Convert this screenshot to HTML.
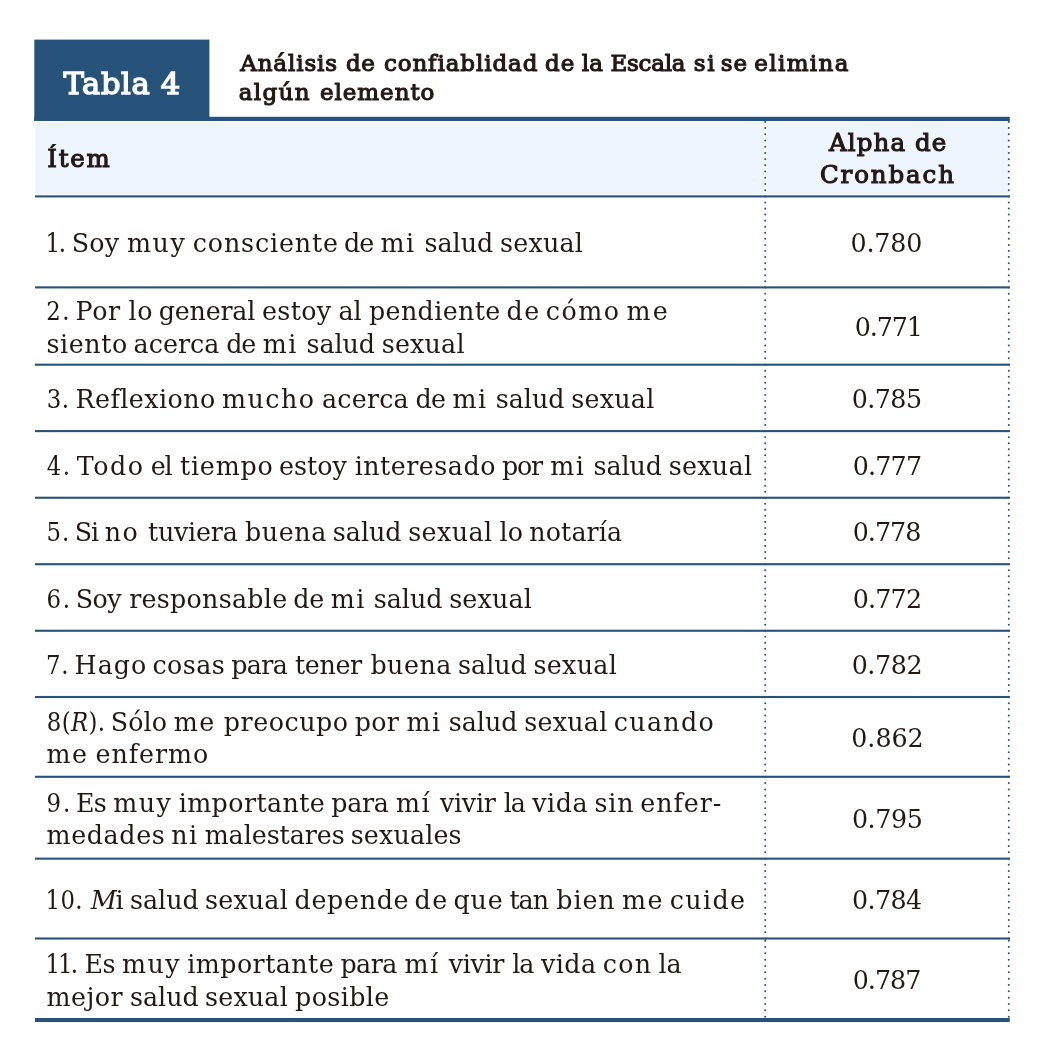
<!DOCTYPE html>
<html lang="es"><head><meta charset="utf-8"><title>Tabla 4</title>
<style>
html,body{margin:0;padding:0;background:#fff;}
body{width:1044px;height:1059px;position:relative;overflow:hidden;font-family:"DejaVu Serif","Liberation Serif",serif;color:#231815;}
svg{position:absolute;left:0;top:0;}
.t{position:absolute;left:0;width:1044px;height:33px;font-size:25.35px;line-height:33px;white-space:nowrap;}
.t span,.v{position:absolute;top:0;white-space:nowrap;}
.v{font-size:25.35px;line-height:33px;height:33px;}
.n{font-family:"DejaVu Serif Condensed","DejaVu Serif","Liberation Serif",serif;}
.h{position:absolute;white-space:nowrap;font-weight:normal;line-height:32px;-webkit-text-stroke:1.1px currentColor;paint-order:stroke fill;}
</style></head><body>
<svg width="1044" height="1059" viewBox="0 0 1044 1059"><rect x="35" y="121.8" width="729.1" height="72.5" fill="#eef5fc"/><rect x="766.5" y="121.8" width="241.6" height="72.5" fill="#eef5fc"/><rect x="34.3" y="39.6" width="175.1" height="81.4" fill="#27527a"/><rect x="34.3" y="116.8" width="975.5" height="4.2" fill="#27527a"/><rect x="35" y="195.35" width="974.8" height="2.1" fill="#27527a"/><rect x="35" y="286.35" width="974.8" height="2.1" fill="#27527a"/><rect x="35" y="363.65" width="974.8" height="2.1" fill="#27527a"/><rect x="35" y="430.05" width="974.8" height="2.1" fill="#27527a"/><rect x="35" y="496.70" width="974.8" height="2.1" fill="#27527a"/><rect x="35" y="563.15" width="974.8" height="2.1" fill="#27527a"/><rect x="35" y="629.70" width="974.8" height="2.1" fill="#27527a"/><rect x="35" y="695.95" width="974.8" height="2.1" fill="#27527a"/><rect x="35" y="775.75" width="974.8" height="2.1" fill="#27527a"/><rect x="35" y="857.60" width="974.8" height="2.1" fill="#27527a"/><rect x="35" y="937.45" width="974.8" height="2.1" fill="#27527a"/><rect x="35" y="1018" width="974.8" height="4.05" fill="#27527a"/><path d="M765.2 121.90h0M765.2 128.11h0M765.2 134.32h0M765.2 140.53h0M765.2 146.73h0M765.2 152.94h0M765.2 159.15h0M765.2 165.36h0M765.2 171.57h0M765.2 177.78h0M765.2 183.98h0M765.2 190.19h0M765.2 196.40h0M765.2 202.47h0M765.2 208.53h0M765.2 214.60h0M765.2 220.67h0M765.2 226.73h0M765.2 232.80h0M765.2 238.87h0M765.2 244.93h0M765.2 251.00h0M765.2 257.07h0M765.2 263.13h0M765.2 269.20h0M765.2 275.27h0M765.2 281.33h0M765.2 287.40h0M765.2 293.84h0M765.2 300.28h0M765.2 306.72h0M765.2 313.17h0M765.2 319.61h0M765.2 326.05h0M765.2 332.49h0M765.2 338.93h0M765.2 345.38h0M765.2 351.82h0M765.2 358.26h0M765.2 364.70h0M765.2 370.74h0M765.2 376.77h0M765.2 382.81h0M765.2 388.85h0M765.2 394.88h0M765.2 400.92h0M765.2 406.95h0M765.2 412.99h0M765.2 419.03h0M765.2 425.06h0M765.2 431.10h0M765.2 437.16h0M765.2 443.22h0M765.2 449.28h0M765.2 455.34h0M765.2 461.40h0M765.2 467.45h0M765.2 473.51h0M765.2 479.57h0M765.2 485.63h0M765.2 491.69h0M765.2 497.75h0M765.2 503.79h0M765.2 509.83h0M765.2 515.87h0M765.2 521.91h0M765.2 527.95h0M765.2 534.00h0M765.2 540.04h0M765.2 546.08h0M765.2 552.12h0M765.2 558.16h0M765.2 564.20h0M765.2 570.25h0M765.2 576.30h0M765.2 582.35h0M765.2 588.40h0M765.2 594.45h0M765.2 600.50h0M765.2 606.55h0M765.2 612.60h0M765.2 618.65h0M765.2 624.70h0M765.2 630.75h0M765.2 636.77h0M765.2 642.80h0M765.2 648.82h0M765.2 654.84h0M765.2 660.86h0M765.2 666.89h0M765.2 672.91h0M765.2 678.93h0M765.2 684.95h0M765.2 690.98h0M765.2 697.00h0M765.2 703.14h0M765.2 709.28h0M765.2 715.42h0M765.2 721.55h0M765.2 727.69h0M765.2 733.83h0M765.2 739.97h0M765.2 746.11h0M765.2 752.25h0M765.2 758.38h0M765.2 764.52h0M765.2 770.66h0M765.2 776.80h0M765.2 783.10h0M765.2 789.39h0M765.2 795.69h0M765.2 801.98h0M765.2 808.28h0M765.2 814.58h0M765.2 820.87h0M765.2 827.17h0M765.2 833.47h0M765.2 839.76h0M765.2 846.06h0M765.2 852.35h0M765.2 858.65h0M765.2 864.79h0M765.2 870.93h0M765.2 877.08h0M765.2 883.22h0M765.2 889.36h0M765.2 895.50h0M765.2 901.65h0M765.2 907.79h0M765.2 913.93h0M765.2 920.07h0M765.2 926.22h0M765.2 932.36h0M765.2 938.50h0M765.2 940.70h0M765.2 947.03h0M765.2 953.37h0M765.2 959.70h0M765.2 966.03h0M765.2 972.37h0M765.2 978.70h0M765.2 985.03h0M765.2 991.37h0M765.2 997.70h0M765.2 1004.03h0M765.2 1010.37h0M765.2 1016.70h0" stroke="#27527a" stroke-width="2" stroke-linecap="round" fill="none"/><path d="M1008.8 121.90h0M1008.8 128.11h0M1008.8 134.32h0M1008.8 140.53h0M1008.8 146.73h0M1008.8 152.94h0M1008.8 159.15h0M1008.8 165.36h0M1008.8 171.57h0M1008.8 177.78h0M1008.8 183.98h0M1008.8 190.19h0M1008.8 196.40h0M1008.8 202.47h0M1008.8 208.53h0M1008.8 214.60h0M1008.8 220.67h0M1008.8 226.73h0M1008.8 232.80h0M1008.8 238.87h0M1008.8 244.93h0M1008.8 251.00h0M1008.8 257.07h0M1008.8 263.13h0M1008.8 269.20h0M1008.8 275.27h0M1008.8 281.33h0M1008.8 287.40h0M1008.8 293.84h0M1008.8 300.28h0M1008.8 306.72h0M1008.8 313.17h0M1008.8 319.61h0M1008.8 326.05h0M1008.8 332.49h0M1008.8 338.93h0M1008.8 345.38h0M1008.8 351.82h0M1008.8 358.26h0M1008.8 364.70h0M1008.8 370.74h0M1008.8 376.77h0M1008.8 382.81h0M1008.8 388.85h0M1008.8 394.88h0M1008.8 400.92h0M1008.8 406.95h0M1008.8 412.99h0M1008.8 419.03h0M1008.8 425.06h0M1008.8 431.10h0M1008.8 437.16h0M1008.8 443.22h0M1008.8 449.28h0M1008.8 455.34h0M1008.8 461.40h0M1008.8 467.45h0M1008.8 473.51h0M1008.8 479.57h0M1008.8 485.63h0M1008.8 491.69h0M1008.8 497.75h0M1008.8 503.79h0M1008.8 509.83h0M1008.8 515.87h0M1008.8 521.91h0M1008.8 527.95h0M1008.8 534.00h0M1008.8 540.04h0M1008.8 546.08h0M1008.8 552.12h0M1008.8 558.16h0M1008.8 564.20h0M1008.8 570.25h0M1008.8 576.30h0M1008.8 582.35h0M1008.8 588.40h0M1008.8 594.45h0M1008.8 600.50h0M1008.8 606.55h0M1008.8 612.60h0M1008.8 618.65h0M1008.8 624.70h0M1008.8 630.75h0M1008.8 636.77h0M1008.8 642.80h0M1008.8 648.82h0M1008.8 654.84h0M1008.8 660.86h0M1008.8 666.89h0M1008.8 672.91h0M1008.8 678.93h0M1008.8 684.95h0M1008.8 690.98h0M1008.8 697.00h0M1008.8 703.14h0M1008.8 709.28h0M1008.8 715.42h0M1008.8 721.55h0M1008.8 727.69h0M1008.8 733.83h0M1008.8 739.97h0M1008.8 746.11h0M1008.8 752.25h0M1008.8 758.38h0M1008.8 764.52h0M1008.8 770.66h0M1008.8 776.80h0M1008.8 783.10h0M1008.8 789.39h0M1008.8 795.69h0M1008.8 801.98h0M1008.8 808.28h0M1008.8 814.58h0M1008.8 820.87h0M1008.8 827.17h0M1008.8 833.47h0M1008.8 839.76h0M1008.8 846.06h0M1008.8 852.35h0M1008.8 858.65h0M1008.8 864.79h0M1008.8 870.93h0M1008.8 877.08h0M1008.8 883.22h0M1008.8 889.36h0M1008.8 895.50h0M1008.8 901.65h0M1008.8 907.79h0M1008.8 913.93h0M1008.8 920.07h0M1008.8 926.22h0M1008.8 932.36h0M1008.8 938.50h0M1008.8 940.70h0M1008.8 947.03h0M1008.8 953.37h0M1008.8 959.70h0M1008.8 966.03h0M1008.8 972.37h0M1008.8 978.70h0M1008.8 985.03h0M1008.8 991.37h0M1008.8 997.70h0M1008.8 1004.03h0M1008.8 1010.37h0M1008.8 1016.70h0" stroke="#27527a" stroke-width="2" stroke-linecap="round" fill="none"/></svg>
<div class="h" id="tabla" style="left:63.42px;top:68.15px;font-size:30.5px;letter-spacing:0.663px;color:#fff;-webkit-text-stroke-width:1.5px">Tabla 4</div>
<div class="h" id="t1a" style="left:240.23px;top:47.04px;font-size:23.0px;letter-spacing:0.862px">Análisis</div>
<div class="h" id="t1b" style="left:345.88px;top:47.04px;font-size:23.0px;letter-spacing:0.547px">de</div>
<div class="h" id="t1c" style="left:383.88px;top:47.04px;font-size:23.0px;letter-spacing:0.892px">confiablidad</div>
<div class="h" id="t1d" style="left:544.88px;top:47.04px;font-size:23.0px;letter-spacing:1.076px">de</div>
<div class="h" id="t1e" style="left:581.84px;top:47.04px;font-size:23.0px;letter-spacing:0.013px">la</div>
<div class="h" id="t1f" style="left:610.61px;top:47.04px;font-size:23.0px;letter-spacing:-0.292px">Escala</div>
<div class="h" id="t1g" style="left:693.68px;top:47.04px;font-size:23.0px;letter-spacing:1.820px">si</div>
<div class="h" id="t1h" style="left:720.68px;top:47.04px;font-size:23.0px;letter-spacing:1.040px">se</div>
<div class="h" id="t1i" style="left:754.16px;top:47.04px;font-size:23.0px;letter-spacing:1.386px">elimina</div>
<div class="h" id="t2a" style="left:238.84px;top:76.04px;font-size:23.0px;letter-spacing:1.329px">algún</div>
<div class="h" id="t2b" style="left:319.97px;top:76.04px;font-size:23.0px;letter-spacing:0.935px">elemento</div>
<div class="h" id="item" style="left:47.20px;top:142.52px;font-size:24.5px;letter-spacing:1.801px">Ítem</div>
<div class="h" id="a1" style="left:829.03px;top:126.52px;font-size:24.5px;letter-spacing:1.098px">Alpha de</div>
<div class="h" id="a2" style="left:819.89px;top:158.52px;font-size:24.5px;letter-spacing:1.906px">Cronbach</div>
<div class="t" id="r1" style="top:226.73px">
<span class="n" id="r1_0" style="left:45.50px;letter-spacing:-1.178px">1.</span>
<span id="r1_1" style="left:71.65px;letter-spacing:0.269px">Soy</span>
<span id="r1_2" style="left:127.06px;letter-spacing:1.500px">muy</span>
<span id="r1_3" style="left:192.74px;letter-spacing:0.845px">consciente</span>
<span id="r1_4" style="left:344.12px;letter-spacing:-1.200px">de</span>
<span id="r1_5" style="left:380.57px;letter-spacing:1.500px">mi</span>
<span id="r1_6" style="left:424.54px;letter-spacing:-0.014px">salud</span>
<span id="r1_7" style="left:500.07px;letter-spacing:0.210px">sexual</span>
</div>
<div class="t" id="r2a" style="top:294.73px">
<span class="n" id="r2a_0" style="left:46.26px;letter-spacing:1.404px">2.</span>
<span id="r2a_1" style="left:75.61px;letter-spacing:0.558px">Por</span>
<span id="r2a_2" style="left:128.38px;letter-spacing:0.760px">lo</span>
<span id="r2a_3" style="left:158.76px;letter-spacing:-0.219px">general</span>
<span id="r2a_4" style="left:262.00px;letter-spacing:0.353px">estoy</span>
<span id="r2a_5" style="left:338.57px;letter-spacing:-0.209px">al</span>
<span id="r2a_6" style="left:368.90px;letter-spacing:0.386px">pendiente</span>
<span id="r2a_7" style="left:506.52px;letter-spacing:1.500px">de</span>
<span id="r2a_8" style="left:545.77px;letter-spacing:1.500px">cómo</span>
<span id="r2a_9" style="left:626.57px;letter-spacing:2.200px">me</span>
</div>
<div class="t" id="r2b" style="top:327.73px">
<span id="r2b_0" style="left:46.48px;letter-spacing:0.580px">siento</span>
<span id="r2b_1" style="left:133.60px;letter-spacing:0.026px">acerca</span>
<span id="r2b_2" style="left:226.26px;letter-spacing:-1.102px">de</span>
<span id="r2b_3" style="left:262.69px;letter-spacing:1.500px">mi</span>
<span id="r2b_4" style="left:306.54px;letter-spacing:-0.076px">salud</span>
<span id="r2b_5" style="left:381.71px;letter-spacing:0.199px">sexual</span>
</div>
<div class="t" id="r3" style="top:382.73px">
<span class="n" id="r3_0" style="left:46.74px;letter-spacing:0.404px">3.</span>
<span id="r3_1" style="left:75.47px;letter-spacing:0.446px">Reflexiono</span>
<span id="r3_2" style="left:222.00px;letter-spacing:1.500px">mucho</span>
<span id="r3_3" style="left:321.99px;letter-spacing:0.201px">acerca</span>
<span id="r3_4" style="left:415.52px;letter-spacing:-0.838px">de</span>
<span id="r3_5" style="left:452.56px;letter-spacing:1.500px">mi</span>
<span id="r3_6" style="left:495.76px;letter-spacing:-0.030px">salud</span>
<span id="r3_7" style="left:571.18px;letter-spacing:0.253px">sexual</span>
</div>
<div class="t" id="r4" style="top:449.73px">
<span class="n" id="r4_0" style="left:46.69px;letter-spacing:1.627px">4.</span>
<span id="r4_1" style="left:76.77px;letter-spacing:1.500px">Todo</span>
<span id="r4_2" style="left:150.80px;letter-spacing:-1.200px">el</span>
<span id="r4_3" style="left:179.96px;letter-spacing:0.814px">tiempo</span>
<span id="r4_4" style="left:278.93px;letter-spacing:0.022px">estoy</span>
<span id="r4_5" style="left:354.67px;letter-spacing:0.490px">interesado</span>
<span id="r4_6" style="left:502.02px;letter-spacing:-1.200px">por</span>
<span id="r4_7" style="left:550.22px;letter-spacing:1.500px">mi</span>
<span id="r4_8" style="left:593.48px;letter-spacing:-0.080px">salud</span>
<span id="r4_9" style="left:668.71px;letter-spacing:0.289px">sexual</span>
</div>
<div class="t" id="r5" style="top:515.73px">
<span class="n" id="r5_0" style="left:46.50px;letter-spacing:0.996px">5.</span>
<span id="r5_1" style="left:74.74px;letter-spacing:-1.200px">Si</span>
<span id="r5_2" style="left:104.67px;letter-spacing:1.500px">no</span>
<span id="r5_3" style="left:147.90px;letter-spacing:-0.199px">tuviera</span>
<span id="r5_4" style="left:245.08px;letter-spacing:0.566px">buena</span>
<span id="r5_5" style="left:332.76px;letter-spacing:0.014px">salud</span>
<span id="r5_6" style="left:408.18px;letter-spacing:0.408px">sexual</span>
<span id="r5_7" style="left:499.38px;letter-spacing:0.209px">lo</span>
<span id="r5_8" style="left:529.25px;letter-spacing:0.125px">notaría</span>
</div>
<div class="t" id="r6" style="top:582.73px">
<span class="n" id="r6_0" style="left:46.51px;letter-spacing:1.862px">6.</span>
<span id="r6_1" style="left:75.65px;letter-spacing:-0.527px">Soy</span>
<span id="r6_2" style="left:129.25px;letter-spacing:0.251px">responsable</span>
<span id="r6_3" style="left:293.26px;letter-spacing:-0.302px">de</span>
<span id="r6_4" style="left:330.67px;letter-spacing:1.500px">mi</span>
<span id="r6_5" style="left:373.76px;letter-spacing:-0.030px">salud</span>
<span id="r6_6" style="left:449.18px;letter-spacing:0.166px">sexual</span>
</div>
<div class="t" id="r7" style="top:648.73px">
<span class="n" id="r7_0" style="left:46.06px;letter-spacing:0.613px">7.</span>
<span id="r7_1" style="left:74.61px;letter-spacing:1.024px">Hago</span>
<span id="r7_2" style="left:152.51px;letter-spacing:0.408px">cosas</span>
<span id="r7_3" style="left:231.36px;letter-spacing:-0.720px">para</span>
<span id="r7_4" style="left:295.08px;letter-spacing:-0.389px">tener</span>
<span id="r7_5" style="left:370.38px;letter-spacing:0.516px">buena</span>
<span id="r7_6" style="left:458.07px;letter-spacing:-0.016px">salud</span>
<span id="r7_7" style="left:533.54px;letter-spacing:0.277px">sexual</span>
</div>
<div class="t" id="r8a" style="top:705.73px">
<span class="n" id="r8a_0" style="left:46.83px;letter-spacing:0.372px">8(<i>R</i>).</span>
<span id="r8a_1" style="left:110.74px;letter-spacing:0.087px">Sólo</span>
<span id="r8a_2" style="left:173.67px;letter-spacing:1.500px">me</span>
<span id="r8a_3" style="left:223.84px;letter-spacing:0.503px">preocupo</span>
<span id="r8a_4" style="left:354.84px;letter-spacing:0.236px">por</span>
<span id="r8a_5" style="left:406.57px;letter-spacing:1.500px">mi</span>
<span id="r8a_6" style="left:448.76px;letter-spacing:-0.030px">salud</span>
<span id="r8a_7" style="left:524.18px;letter-spacing:0.253px">sexual</span>
<span id="r8a_8" style="left:613.77px;letter-spacing:1.299px">cuando</span>
</div>
<div class="t" id="r8b" style="top:737.73px">
<span id="r8b_0" style="left:46.57px;letter-spacing:1.500px">me</span>
<span id="r8b_1" style="left:95.58px;letter-spacing:0.943px">enfermo</span>
</div>
<div class="t" id="r9a" style="top:786.73px">
<span class="n" id="r9a_0" style="left:46.55px;letter-spacing:1.876px">9.</span>
<span id="r9a_1" style="left:75.89px;letter-spacing:-0.613px">Es</span>
<span id="r9a_2" style="left:113.22px;letter-spacing:1.500px">muy</span>
<span id="r9a_3" style="left:178.69px;letter-spacing:0.395px">importante</span>
<span id="r9a_4" style="left:331.36px;letter-spacing:-0.387px">para</span>
<span id="r9a_5" style="left:396.06px;letter-spacing:1.500px">mí</span>
<span id="r9a_6" style="left:440.02px;letter-spacing:-0.290px">vivir</span>
<span id="r9a_7" style="left:503.84px;letter-spacing:-1.200px">la</span>
<span id="r9a_8" style="left:532.22px;letter-spacing:0.573px">vida</span>
<span id="r9a_9" style="left:594.54px;letter-spacing:0.791px">sin</span>
<span id="r9a_10" style="left:640.25px;letter-spacing:0.937px">enfer-</span>
</div>
<div class="t" id="r9b" style="top:818.73px">
<span id="r9b_0" style="left:46.57px;letter-spacing:0.602px">medades</span>
<span id="r9b_1" style="left:171.22px;letter-spacing:1.500px">ni</span>
<span id="r9b_2" style="left:204.67px;letter-spacing:-0.065px">malestares</span>
<span id="r9b_3" style="left:350.71px;letter-spacing:0.145px">sexuales</span>
</div>
<div class="t" id="r10" style="top:883.73px">
<span class="n" id="r10_0" style="left:45.60px;letter-spacing:0.378px">10.</span>
<span id="r10_1" style="left:90.66px;letter-spacing:-1.200px"><i>M</i>i</span>
<span id="r10_2" style="left:130.07px;letter-spacing:-0.049px">salud</span>
<span id="r10_3" style="left:205.08px;letter-spacing:0.164px">sexual</span>
<span id="r10_4" style="left:294.52px;letter-spacing:0.671px">depende</span>
<span id="r10_5" style="left:414.52px;letter-spacing:1.500px">de</span>
<span id="r10_6" style="left:453.51px;letter-spacing:0.811px">que</span>
<span id="r10_7" style="left:509.38px;letter-spacing:-0.998px">tan</span>
<span id="r10_8" style="left:556.35px;letter-spacing:0.889px">bien</span>
<span id="r10_9" style="left:622.00px;letter-spacing:1.500px">me</span>
<span id="r10_10" style="left:669.76px;letter-spacing:1.338px">cuide</span>
</div>
<div class="t" id="r11a" style="top:947.73px">
<span class="n" id="r11a_0" style="left:45.40px;letter-spacing:-1.782px">11.</span>
<span id="r11a_1" style="left:84.47px;letter-spacing:-0.489px">Es</span>
<span id="r11a_2" style="left:122.00px;letter-spacing:1.408px">muy</span>
<span id="r11a_3" style="left:187.25px;letter-spacing:0.430px">importante</span>
<span id="r11a_4" style="left:340.38px;letter-spacing:-0.499px">para</span>
<span id="r11a_5" style="left:404.57px;letter-spacing:1.500px">mí</span>
<span id="r11a_6" style="left:448.69px;letter-spacing:-0.291px">vivir</span>
<span id="r11a_7" style="left:512.35px;letter-spacing:-1.200px">la</span>
<span id="r11a_8" style="left:541.00px;letter-spacing:0.421px">vida</span>
<span id="r11a_9" style="left:602.77px;letter-spacing:1.207px">con</span>
<span id="r11a_10" style="left:658.38px;letter-spacing:0.076px">la</span>
</div>
<div class="t" id="r11b" style="top:980.73px">
<span id="r11b_0" style="left:46.57px;letter-spacing:0.420px">mejor</span>
<span id="r11b_1" style="left:130.07px;letter-spacing:-0.049px">salud</span>
<span id="r11b_2" style="left:205.08px;letter-spacing:0.164px">sexual</span>
<span id="r11b_3" style="left:295.08px;letter-spacing:0.373px">posible</span>
</div>
<div class="v" id="v1" style="left:850.42px;top:226.73px;letter-spacing:-0.153px">0.780</div>
<div class="v" id="v2" style="left:854.63px;top:310.73px;letter-spacing:-1.054px">0.771</div>
<div class="v" id="v3" style="left:851.64px;top:382.73px;letter-spacing:-0.530px">0.785</div>
<div class="v" id="v4" style="left:852.64px;top:449.73px;letter-spacing:-0.769px">0.777</div>
<div class="v" id="v5" style="left:852.64px;top:515.73px;letter-spacing:-0.952px">0.778</div>
<div class="v" id="v6" style="left:852.64px;top:582.73px;letter-spacing:-0.769px">0.772</div>
<div class="v" id="v7" style="left:851.64px;top:648.73px;letter-spacing:-0.378px">0.782</div>
<div class="v" id="v8" style="left:851.30px;top:721.73px;letter-spacing:-0.047px">0.862</div>
<div class="v" id="v9" style="left:851.90px;top:802.73px;letter-spacing:-0.404px">0.795</div>
<div class="v" id="v10" style="left:851.90px;top:883.73px;letter-spacing:-0.574px">0.784</div>
<div class="v" id="v11" style="left:852.63px;top:963.73px;letter-spacing:-0.941px">0.787</div>
</body></html>
